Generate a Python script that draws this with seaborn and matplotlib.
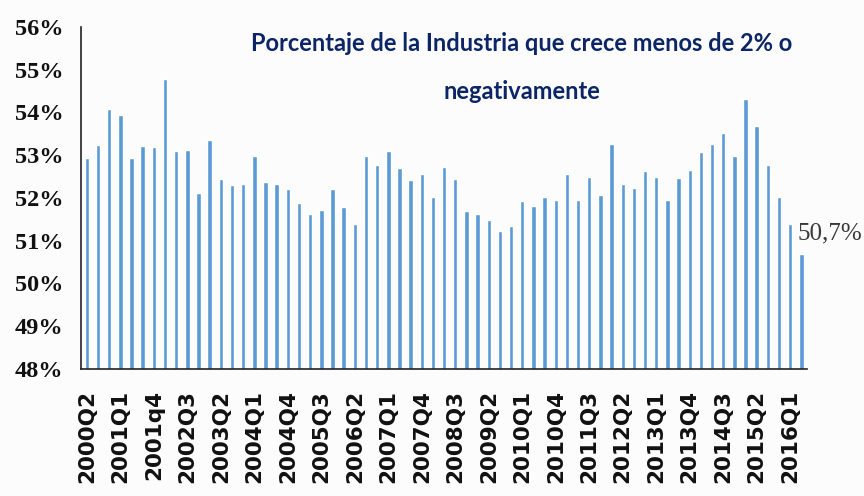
import matplotlib
matplotlib.use("Agg")
import matplotlib.pyplot as plt
import seaborn as sns
import pandas as pd

# Quarterly share of industry growing below 2% (or negatively), in percent
quarters = [
    "2000Q2", "2000Q3", "2000Q4",
    "2001Q1", "2001Q2", "2001Q3", "2001q4",
    "2002Q1", "2002Q2", "2002Q3", "2002Q4",
    "2003Q1", "2003Q2", "2003Q3", "2003Q4",
    "2004Q1", "2004Q2", "2004Q3", "2004Q4",
    "2005Q1", "2005Q2", "2005Q3", "2005Q4",
    "2006Q1", "2006Q2", "2006Q3", "2006Q4",
    "2007Q1", "2007Q2", "2007Q3", "2007Q4",
    "2008Q1", "2008Q2", "2008Q3", "2008Q4",
    "2009Q1", "2009Q2", "2009Q3", "2009Q4",
    "2010Q1", "2010Q2", "2010Q3", "2010Q4",
    "2011Q1", "2011Q2", "2011Q3", "2011Q4",
    "2012Q1", "2012Q2", "2012Q3", "2012Q4",
    "2013Q1", "2013Q2", "2013Q3", "2013Q4",
    "2014Q1", "2014Q2", "2014Q3", "2014Q4",
    "2015Q1", "2015Q2", "2015Q3", "2015Q4",
    "2016Q1", "2016Q2",
]
share = [
    52.93, 53.24, 54.07, 53.93, 52.93, 53.22, 53.19, 54.78, 53.10, 53.12,
    52.12, 53.36, 52.44, 52.30, 52.33, 52.99, 52.38, 52.33, 52.20, 51.89,
    51.63, 51.72, 52.20, 51.78, 51.38, 52.97, 52.77, 53.09, 52.69, 52.41,
    52.55, 52.03, 52.72, 52.44, 51.70, 51.63, 51.49, 51.23, 51.35, 51.92,
    51.80, 52.03, 51.95, 52.55, 51.95, 52.49, 52.06, 53.26, 52.32, 52.23,
    52.63, 52.49, 51.95, 52.46, 52.66, 53.07, 53.26, 53.52, 52.97, 54.32,
    53.69, 52.77, 52.03, 51.38, 50.7,
]
y_ticks = [48, 49, 50, 51, 52, 53, 54, 55, 56]
title_text = "Porcentaje de la Industria que crece menos de 2% o\nnegativamente"
last_label = "50,7%"

df = pd.DataFrame({"trimestre": quarters, "porcentaje": share})

sns.set_theme(style="white")
fig = plt.figure(figsize=(8.64, 4.96), dpi=100)
fig.patch.set_facecolor("#fcfcfc")
ax = fig.add_axes([0.094, 0.256, 0.840, 0.690])
ax.set_facecolor("#fcfcfc")

sns.barplot(data=df, x="trimestre", y="porcentaje", color="#5b9bd5",
            saturation=1, width=0.4, ax=ax)

ax.set_ylim(48, 56)
ax.set_xlim(-0.5, len(quarters) - 0.5)
ax.set_xlabel("")
ax.set_ylabel("")

ax.set_yticks(y_ticks)
ax.set_yticklabels([f"{t}%" for t in y_ticks], family="Liberation Serif",
                   fontweight="bold", fontsize=17.5, color="#111111")
ax.set_xticks(range(0, len(quarters), 3))
ax.set_xticklabels(quarters[::3], rotation=90, family="DejaVu Sans",
                   fontweight="bold", fontsize=15.5, color="#111111")
ax.tick_params(axis="y", length=0, pad=13)
ax.tick_params(axis="x", length=0, pad=15)

for side in ("top", "right"):
    ax.spines[side].set_visible(False)
for side in ("left", "bottom"):
    ax.spines[side].set_color("#222222")
    ax.spines[side].set_linewidth(1.2)

# Value label on the latest quarter
last_idx = len(share) - 1
ax.text(last_idx - 0.35, share[-1] + 0.22, last_label, ha="left", va="bottom",
        family="Liberation Serif", fontsize=18, color="#3a3a3a")

fig.text(0.604, 0.864, title_text, ha="center", va="center",
         family="Lato", fontweight="bold", fontsize=17, color="#0b2566",
         linespacing=2.3)

fig.savefig("out.png", dpi=100, facecolor=fig.get_facecolor())
